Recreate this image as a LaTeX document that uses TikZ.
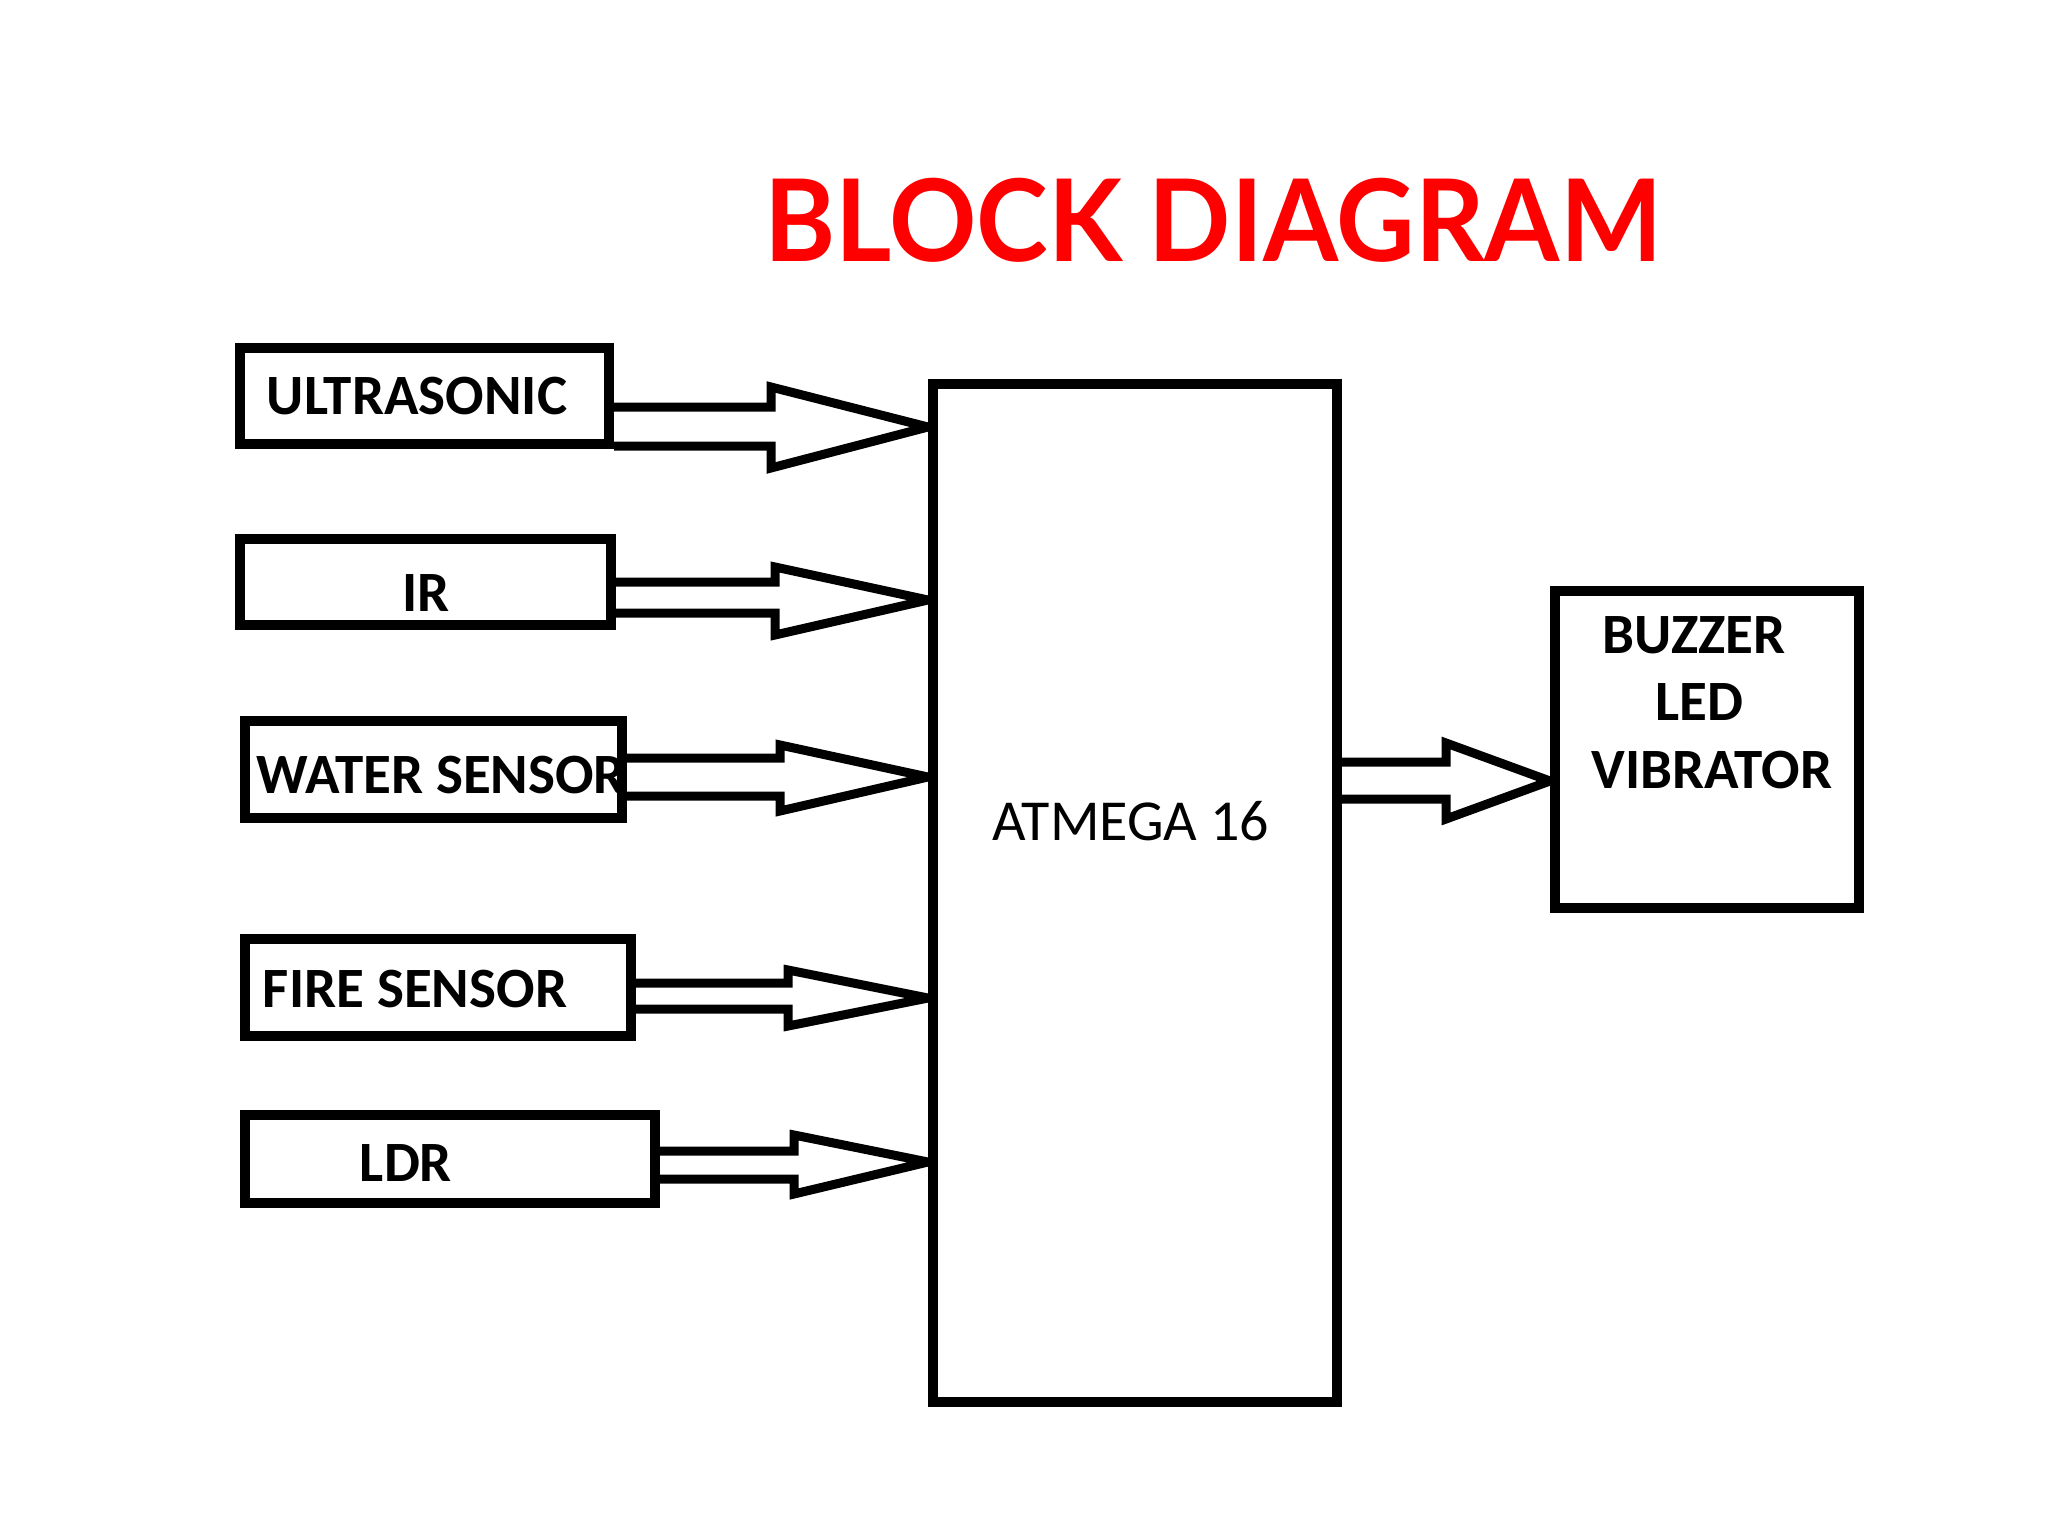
\documentclass[tikz,border=0pt]{standalone}
\usepackage{fontspec}
\setmainfont{Carlito}
\newfontfamily\titlefont{Lato}
\begin{document}
\begin{tikzpicture}[x=1pt,y=-1pt,
  box/.style={draw=black, line width=10pt, inner sep=0pt, rectangle},
  lbl/.style={font=\fontsize{57}{60}\selectfont\bfseries, anchor=base, inner sep=0pt},
  arrowline/.style={draw=black, line width=9pt, line join=miter, miter limit=2},
]
\useasboundingbox[fill=white] (0,0) rectangle (2048,1536);

% title
\node[anchor=base, inner sep=0pt, text=red, xscale=0.95, font=\titlefont\fontsize{114}{120}\selectfont\bfseries] (title) at (1213,261) {BLOCK DIAGRAM};

% boxes
\node[box, minimum width=369pt, minimum height=96pt] (ultra) at (424.5,396) {};
\node[box, minimum width=371pt, minimum height=86pt] (ir) at (425.5,582) {};
\node[box, minimum width=377pt, minimum height=97pt] (water) at (433.5,769.5) {};
\node[box, minimum width=386pt, minimum height=97pt] (fire) at (438,987.5) {};
\node[box, minimum width=410pt, minimum height=88pt] (ldr) at (450,1159) {};
\node[box, minimum width=404pt, minimum height=1018pt] (atm) at (1135,893) {};
\node[box, minimum width=304pt, minimum height=317pt] (out) at (1707,749.5) {};

% labels
\node[lbl] (tultra) at (417,414) {ULTRASONIC};
\node[lbl] (tir) at (426,611) {IR};
\node[lbl] (twater) at (441,793) {WATER SENSOR};
\node[lbl] (tfire) at (415,1007) {FIRE SENSOR};
\node[lbl] (tldr) at (406,1181) {LDR};
\node[lbl] (tbuz) at (1694,653) {BUZZER};
\node[lbl] (tled) at (1699,720) {LED};
\node[lbl] (tvib) at (1712,788) {VIBRATOR};
\node[anchor=base, inner sep=0pt, font=\fontsize{58}{62}\selectfont] (tatm) at (1131,840) {ATMEGA 16};

% block arrows: from, to, shaft top, shaft bottom, head x, head top, head bottom, tip y
\newcommand\blockarr[8]{%
  \draw[arrowline] (#1.east |- 0,#3) -- (#5,#3) -- (#5,#6) -- (#2.west |- 0,#8)
    -- (#5,#7) -- (#5,#4) -- (#1.east |- 0,#4);}
\blockarr{ultra}{atm}{407}{446}{771}{387}{468}{427}
\blockarr{ir}{atm}{582}{613}{775}{567}{635}{600}
\blockarr{water}{atm}{758}{796}{780}{745}{811}{777}
\blockarr{fire}{atm}{983}{1009}{788}{970}{1026}{998}
\blockarr{ldr}{atm}{1151}{1179}{794}{1135}{1194}{1162}
\blockarr{atm}{out}{762}{799}{1446}{743}{819}{781}
\end{tikzpicture}
\end{document}
